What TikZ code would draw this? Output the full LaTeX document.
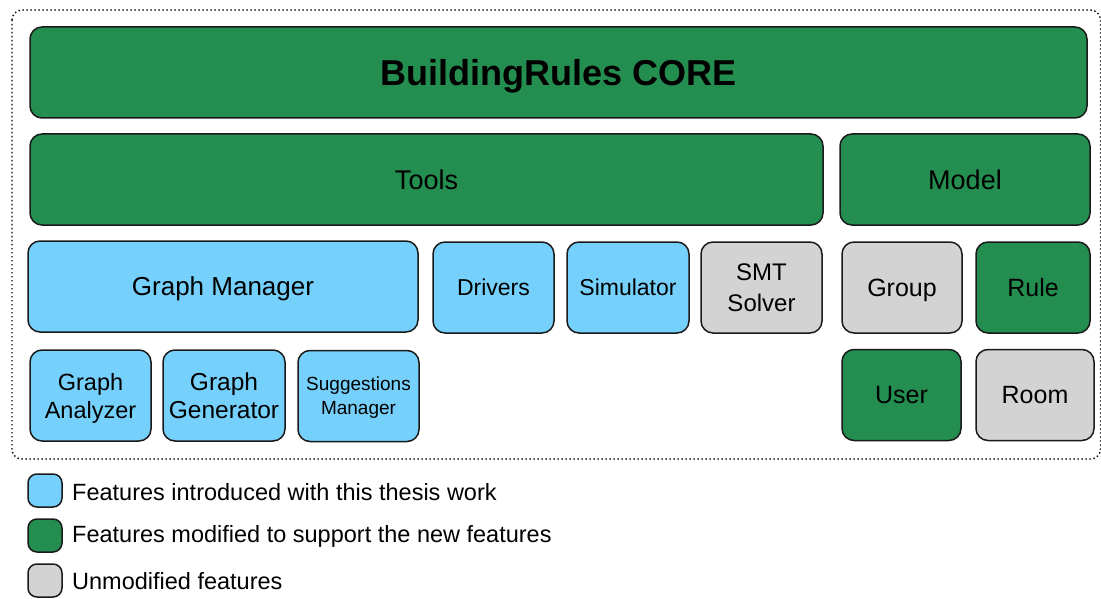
\documentclass[tikz,border=0pt]{standalone}
\usepackage{fontspec}
\setmainfont{Liberation Sans}
\definecolor{brgreen}{RGB}{35,142,80}
\definecolor{brblue}{RGB}{117,208,251}
\definecolor{brgray}{RGB}{211,211,211}
\definecolor{brline}{RGB}{26,26,26}
\begin{document}
\begin{tikzpicture}[x=1pt,y=-1pt,
  box/.style={draw=brline, line width=1.5pt, rounded corners=12pt, inner sep=0pt, align=center, text=black, text depth=0pt},
  legbox/.style={draw=brline, line width=1.5pt, rounded corners=9pt, inner sep=0pt, minimum width=34pt, minimum height=33pt},
  legtext/.style={anchor=west, inner sep=0pt, font=\fontsize{23.5}{28}\selectfont},
  fs/.style={font=\fontsize{#1}{30}\selectfont}
]
\useasboundingbox (0,0) rectangle (1101,599);
\draw[line width=1.4pt, dash pattern=on 1.4pt off 2.6pt, rounded corners=10pt] (12,10) rectangle (1100.5,459);

\node[box, fill=brgreen, minimum width=1057pt, minimum height=91pt, font=\fontsize{36}{40}\selectfont\bfseries] (core) at (558.5,72.5) {BuildingRules CORE};
\node[box, fill=brgreen, minimum width=793pt, minimum height=91pt, fs=27] (tools) at (426.5,179.5) {Tools};
\node[box, fill=brgreen, minimum width=250pt, minimum height=91pt, fs=27] (model) at (965,179.5) {Model};

\node[box, fill=brblue, minimum width=390pt, minimum height=91pt, fs=26] (gm) at (223,286.5) {Graph Manager};
\node[box, fill=brblue, minimum width=121pt, minimum height=91pt, fs=23] (drv) at (493.5,287.5) {Drivers};
\node[box, fill=brblue, minimum width=122pt, minimum height=91pt, fs=23] (sim) at (628,287.5) {Simulator};
\node[box, fill=brgray, minimum width=121pt, minimum height=91pt, font=\fontsize{24}{31}\selectfont] (smt) at (761.5,287.5) {SMT\\Solver};
\node[box, fill=brgray, minimum width=120pt, minimum height=91pt, fs=25] (group) at (902,287.5) {Group};
\node[box, fill=brgreen, minimum width=114pt, minimum height=91pt, fs=25] (rule) at (1033,287.5) {Rule};

\node[box, fill=brblue, minimum width=121pt, minimum height=91pt, font=\fontsize{23.5}{28}\selectfont] (ga) at (90.5,395.5) {Graph\\Analyzer};
\node[box, fill=brblue, minimum width=122pt, minimum height=91pt, font=\fontsize{24.5}{28}\selectfont] (gg) at (224,395.5) {Graph\\Generator};
\node[box, fill=brblue, minimum width=121pt, minimum height=91pt, font=\fontsize{19}{24}\selectfont] (sm) at (358.5,396) {Suggestions\\Manager};
\node[box, fill=brgreen, minimum width=119pt, minimum height=91pt, fs=25] (user) at (901.5,395) {User};
\node[box, fill=brgray, minimum width=118pt, minimum height=91pt, fs=25] (room) at (1035,395) {Room};

\node[legbox, fill=brblue] (l1) at (45,490.5) {};
\node[legbox, fill=brgreen] (l2) at (45,535.5) {};
\node[legbox, fill=brgray] (l3) at (45,580.5) {};
\node[legtext] (t1) at (72,492) {Features introduced with this thesis work};
\node[legtext] (t2) at (72,536) {Features modified to support the new features};
\node[legtext] (t3) at (72,581) {Unmodified features};
\end{tikzpicture}
\end{document}
